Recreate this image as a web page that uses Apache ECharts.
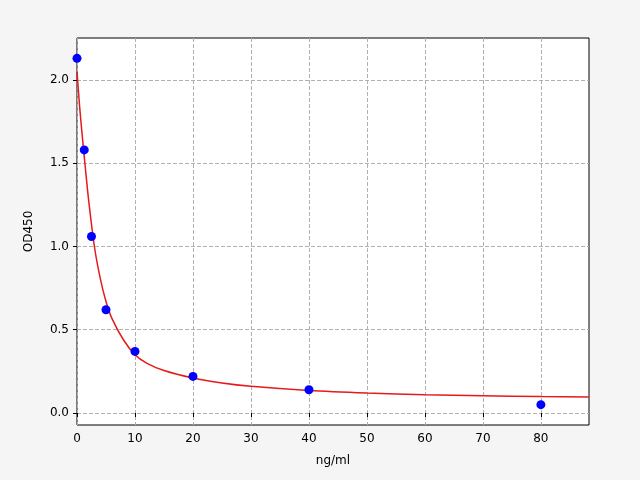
<!DOCTYPE html><html><head><meta charset="utf-8"><script src="https://cdn.jsdelivr.net/npm/echarts@6/dist/echarts.min.js"></script></head><body style="margin:0"><div id="c" style="width:640px;height:480px"></div><script>
const pointX=[0,1.25,2.5,5,10,20,40,80];
const pointY=[2.13,1.58,1.06,0.62,0.37,0.22,0.14,0.05];
const curveX=[0,0.5,1,1.5,2,3,4,5,6,8,10,12,15,20,25,30,40,50,60,70,80,88.3];
const curveY=[2.05,1.82,1.63,1.45,1.28,1.0,0.81,0.67,0.57,0.44,0.35,0.3,0.255,0.21,0.18,0.16,0.135,0.12,0.11,0.104,0.099,0.096];
const xTicks=[0,10,20,30,40,50,60,70,80];
const yTicks=[0,0.5,1,1.5,2];
const ch=echarts.init(document.getElementById('c'));
const ax={color:'#000',fontSize:12,fontFamily:'DejaVu Sans'};
ch.setOption({backgroundColor:'#f5f5f5',animation:false,
grid:{left:77,right:51,top:38,bottom:55,show:true,backgroundColor:'#fff',borderColor:'#000',borderWidth:1},
xAxis:{type:'value',min:0,max:88.3,interval:10,name:'ng/ml',nameLocation:'middle',nameGap:30,nameTextStyle:ax,
axisLine:{show:false},axisTick:{show:true,inside:false,length:4,lineStyle:{color:'#000'},customValues:xTicks},
axisLabel:Object.assign({customValues:xTicks,formatter:v=>String(v)},ax),
splitLine:{show:true,lineStyle:{color:'#b0b0b0',type:'dashed'}}},
yAxis:{type:'value',min:-0.072,max:2.252,name:'OD450',nameLocation:'middle',nameGap:42,nameTextStyle:ax,
axisLine:{show:false},axisTick:{show:true,length:4,lineStyle:{color:'#000'},customValues:yTicks},
axisLabel:Object.assign({customValues:yTicks,formatter:v=>v.toFixed(1)},ax),
splitLine:{show:true,lineStyle:{color:'#b0b0b0',type:'dashed'}}},
series:[
{type:'line',data:curveX.map((x,i)=>[x,curveY[i]]),smooth:0.3,symbol:'none',lineStyle:{color:'#e41a1c',width:1.5},z:2},
{type:'scatter',data:pointX.map((x,i)=>[x,pointY[i]]),symbolSize:9,itemStyle:{color:'#0000ff',opacity:1},z:3}
]});
</script></body></html>
